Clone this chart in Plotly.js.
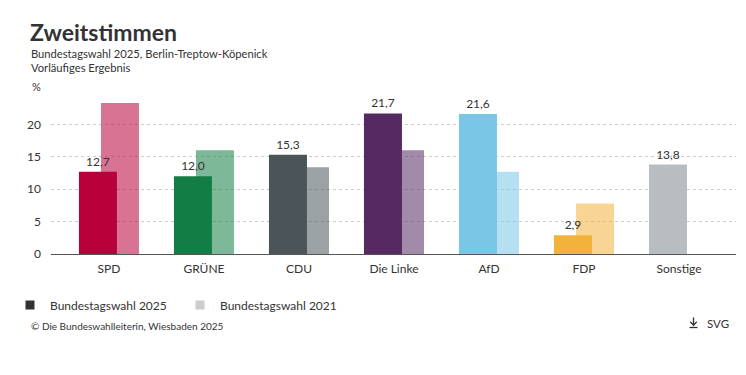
<!DOCTYPE html>
<html>
<head>
<meta charset="utf-8">
<script src="https://cdn.plot.ly/plotly-3.0.1.min.js"></script>
<style>
html,body{margin:0;padding:0;background:#fff;}
#chart{width:746px;height:375px;}
</style>
</head>
<body>
<div id="chart"></div>
<script>
const parties = ['SPD','GRÜNE','CDU','Die Linke','AfD','FDP','Sonstige'];
const votes2025 = [12.7, 12.0, 15.3, 21.7, 21.6, 2.9, 13.8];
const votes2021 = [23.3, 16.0, 13.4, 16.0, 12.7, 7.8, null];
const partyColors = ['#b8003b','#137d46','#4b5458','#552962','#7ac6e7','#f2b33d','#b7bdc1'];
const seriesNames = ['Bundestagswahl 2025','Bundestagswahl 2021'];
const legendColors = ['#333333','#cccccc'];
const yTicks = [0,5,10,15,20];

const FONT = 'Lato, "Noto Sans", sans-serif';
const TXT = '#333333';

// layout geometry (pixels)
const W = 746, H = 375, L = 51, R = 10, T = 92, B = 121;
const pw = W - L - R, ph = H - T - B;
const px = x => (x - L) / pw;
const py = y => (H - B - y) / ph;

const traces = [
  {
    type: 'bar', x: parties, y: votes2021, name: seriesNames[1],
    width: 0.4, offset: -0.084,
    marker: {color: partyColors, opacity: 0.55},
    showlegend: false, hoverinfo: 'skip'
  },
  {
    type: 'bar', x: parties, y: votes2025, name: seriesNames[0],
    width: 0.4, offset: -0.316,
    marker: {color: partyColors},
    texttemplate: '%{y:.1f}', textposition: 'outside',
    textfont: {family: FONT, size: 12, color: TXT},
    constraintext: 'none', cliponaxis: false,
    showlegend: false, hoverinfo: 'skip'
  },
  {
    type: 'scatter', mode: 'markers', x: [null], y: [null], name: seriesNames[0],
    marker: {symbol: 'square', size: 9, color: legendColors[0]}, showlegend: true
  },
  {
    type: 'scatter', mode: 'markers', x: [null], y: [null], name: seriesNames[1],
    marker: {symbol: 'square', size: 9, color: legendColors[1]}, showlegend: true
  }
];

const ann = (text, x, y, size, opts) => Object.assign({
  text: text, xref: 'paper', yref: 'paper', x: x, y: y,
  xanchor: 'left', yanchor: 'middle', showarrow: false,
  font: {family: FONT, size: size, color: TXT}
}, opts || {});

const layout = {
  width: W, height: H,
  margin: {l: L, r: R, t: T, b: B, pad: 0},
  paper_bgcolor: '#ffffff', plot_bgcolor: '#ffffff',
  font: {family: FONT, size: 12, color: TXT},
  separators: ',.',
  barmode: 'overlay',
  hovermode: false,
  xaxis: {
    type: 'category', range: [-0.61, 6.6], fixedrange: true,
    showgrid: false, zeroline: false, showline: false,
    ticks: '', tickfont: {family: FONT, size: 12, color: TXT},
    ticklabelstandoff: 6
  },
  yaxis: {
    range: [0, 25], tickvals: yTicks, fixedrange: true,
    showgrid: true, gridcolor: '#cdcdcd', gridwidth: 1, griddash: '3px,3px',
    zeroline: true, zerolinecolor: '#555555', zerolinewidth: 1,
    showline: false, ticks: '', ticklabelstandoff: 9,
    tickfont: {family: FONT, size: 12, color: TXT}
  },
  showlegend: true,
  legend: {
    orientation: 'h', x: px(10), y: py(305), xanchor: 'left', yanchor: 'middle',
    font: {family: FONT, size: 12, color: TXT},
    bgcolor: 'rgba(0,0,0,0)', borderwidth: 0,
    entrywidth: 125, entrywidthmode: 'pixels',
    itemclick: false, itemdoubleclick: false
  },
  annotations: [
    ann('<b>Zweitstimmen</b>', px(28), py(32), 23),
    ann('Bundestagswahl 2025, Berlin-Treptow-Köpenick', px(29), py(53), 11.2),
    ann('Vorläufiges Ergebnis', px(29), py(67), 11.2),
    ann('%', px(36), py(86), 11, {xanchor: 'center'}),
    ann('© Die Bundeswahlleiterin, Wiesbaden 2025', px(29), py(326), 10),
    ann('SVG', px(705), py(323), 11.5)
  ],
  shapes: [
    {type: 'line', xref: 'paper', yref: 'paper', x0: px(693.5), x1: px(693.5), y0: py(317.5), y1: py(325), line: {color: TXT, width: 1.3}},
    {type: 'path', xref: 'paper', yref: 'paper',
     path: 'M' + px(690.3) + ',' + py(321.8) + ' L' + px(693.5) + ',' + py(325.2) + ' L' + px(696.7) + ',' + py(321.8),
     line: {color: TXT, width: 1.3}},
    {type: 'line', xref: 'paper', yref: 'paper', x0: px(689.5), x1: px(697.5), y0: py(327.5), y1: py(327.5), line: {color: TXT, width: 1.3}}
  ]
};

Plotly.newPlot('chart', traces, layout, {displayModeBar: false, staticPlot: true});
</script>
</body>
</html>
